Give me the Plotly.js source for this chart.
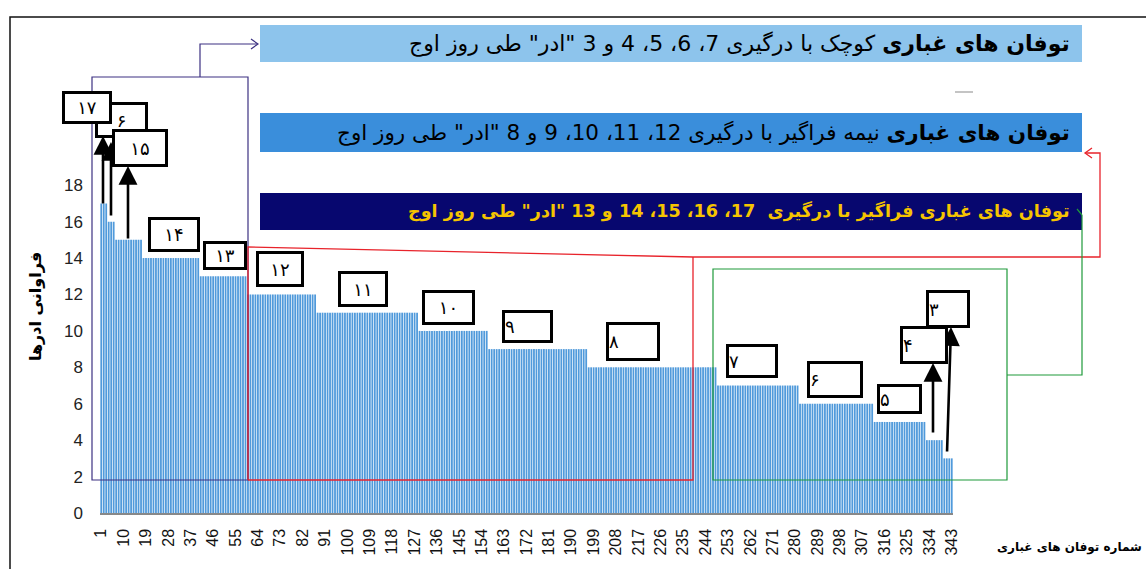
<!DOCTYPE html>
<html>
<head>
<meta charset="utf-8">
<script src="https://cdn.plot.ly/plotly-3.0.1.min.js"></script>
<style>html,body{margin:0;padding:0;background:#fff;}#chart{width:1146px;height:569px;}</style>
</head>
<body>
<div id="chart"></div>
<script>
// Storm numbers (x categories) 1..343 and the number of "ادر" affected in each
const stormValues = [
  17,17,17,16,16,16,15,15,15,15,
  15,15,15,15,15,15,15,14,14,14,
  14,14,14,14,14,14,14,14,14,14,
  14,14,14,14,14,14,14,14,14,14,
  13,13,13,13,13,13,13,13,13,13,
  13,13,13,13,13,13,13,13,13,12,
  12,12,12,12,12,12,12,12,12,12,
  12,12,12,12,12,12,12,12,12,12,
  12,12,12,12,12,12,12,11,11,11,
  11,11,11,11,11,11,11,11,11,11,
  11,11,11,11,11,11,11,11,11,11,
  11,11,11,11,11,11,11,11,11,11,
  11,11,11,11,11,11,11,11,10,10,
  10,10,10,10,10,10,10,10,10,10,
  10,10,10,10,10,10,10,10,10,10,
  10,10,10,10,10,10,9,9,9,9,
  9,9,9,9,9,9,9,9,9,9,
  9,9,9,9,9,9,9,9,9,9,
  9,9,9,9,9,9,9,9,9,9,
  9,9,9,9,9,9,8,8,8,8,
  8,8,8,8,8,8,8,8,8,8,
  8,8,8,8,8,8,8,8,8,8,
  8,8,8,8,8,8,8,8,8,8,
  8,8,8,8,8,8,8,8,8,8,
  8,8,8,8,8,8,8,8,7,7,
  7,7,7,7,7,7,7,7,7,7,
  7,7,7,7,7,7,7,7,7,7,
  7,7,7,7,7,7,7,7,7,7,
  7,6,6,6,6,6,6,6,6,6,
  6,6,6,6,6,6,6,6,6,6,
  6,6,6,6,6,6,6,6,6,6,
  6,5,5,5,5,5,5,5,5,5,
  5,5,5,5,5,5,5,5,5,5,
  5,5,4,4,4,4,4,4,4,3,
  3,3,3
];
const stormNumbers = stormValues.map((v, i) => i + 1);

const yTickValues = [0, 2, 4, 6, 8, 10, 12, 14, 16, 18];
const xTickStart = 1, xTickStep = 9;

const yAxisTitle = 'فراوانی ادرها';
const xAxisTitle = 'شماره توفان های غباری';
const bannerSmall = '<b>توفان های غباری</b> کوچک با درگیری 7، 6، 5، 4 و 3 "ادر" طی روز اوج';
const bannerSemi = '<b>توفان های غباری</b> نیمه فراگیر با درگیری 12، 11، 10، 9 و 8 "ادر" طی روز اوج';
const bannerWide = '<b>توفان های غباری فراگیر با درگیری  17، 16، 15، 14 و 13 "ادر" طی روز اوج</b>';

// labels of the steps (Persian digits)
const stepLabels = ['۱۷','۶','۱۵','۱۴','۱۳','۱۲','۱۱','۱۰','۹','۸','۷','۶','۵','۴','۳'];

// ---------- layout helpers (pixel -> paper) ----------
const ML = 100, MR = 193, MT = 167, MB = 56, W = 1146, H = 569;
const PW = W - ML - MR, PH = H - MT - MB;
const X = p => (p - ML) / PW;
const Y = p => (H - MB - p) / PH;
const path = pts => pts.map((p, i) => (i ? 'L' : 'M') + X(p[0]) + ',' + Y(p[1])).join(' ');

const shapes = [];
function pshape(pts, color, width, close) {
  shapes.push({type: 'path', xref: 'paper', yref: 'paper', path: path(pts) + (close ? ' Z' : ''),
    line: {color: color, width: width}, layer: 'above'});
}
function rect(x0, y0, x1, y1, fill) {
  shapes.push({type: 'rect', xref: 'paper', yref: 'paper', x0: X(x0), x1: X(x1), y0: Y(y1), y1: Y(y0),
    fillcolor: fill, line: {width: 0}, layer: 'above'});
}
// outer frame
shapes.push({type: 'path', xref: 'paper', yref: 'paper', path: path([[10, 600], [10, 17], [1160, 17]]),
  line: {color: '#111', width: 1.5}, layer: 'above'});
// banners
rect(260, 25, 1082, 62, '#8DC4EC');
rect(260, 113, 1082, 152, '#3A8EDB');
rect(260, 193, 1082, 230, '#07076F');
// stray gray dash
pshape([[955, 92], [973, 92]], '#c4c4c4', 2);
// purple group box + connector
pshape([[92, 480], [92, 77], [248, 77], [248, 480]], '#3C3182', 1.2, true);
pshape([[200, 77], [200, 44], [257, 44]], '#3C3182', 1.2);
pshape([[251, 39], [258, 44], [251, 49]], '#3C3182', 1.2);
// red group box + connector
pshape([[248, 480], [248, 247], [693, 257], [1100, 257], [1100, 153], [1086, 153]], '#E8232B', 1.3);
pshape([[693, 257], [693, 480], [248, 480]], '#E8232B', 1.3);
pshape([[1092, 148], [1085, 153], [1092, 158]], '#E8232B', 1.3);
// green group box + connector
pshape([[713, 480], [713, 269], [1007, 269], [1007, 480]], '#1E9A3A', 1.2, true);
pshape([[1007, 375], [1082, 375], [1082, 215]], '#1E9A3A', 1.2);
pshape([[1077, 209], [1082, 215]], '#1E9A3A', 1.2);

const annotations = [];
// arrows (tip, tail)
const arrowDefs = [
  [103, 136, 103, 205],
  [111, 142, 111, 217],
  [128, 166, 128, 240],
  [933, 363, 933, 434],
  [951, 327, 947, 453]
];
arrowDefs.forEach(a => annotations.push({
  xref: 'paper', yref: 'paper', x: X(a[0]), y: Y(a[1]), ax: a[2] - a[0], ay: a[3] - a[1],
  axref: 'pixel', ayref: 'pixel', text: '', showarrow: true, arrowhead: 2, arrowsize: 1.45,
  arrowwidth: 2.6, arrowcolor: '#000', standoff: 0, startstandoff: 0
}));
// number boxes [x0, y0, x1, y1, align]
const boxDefs = [
  [96, 104, 146, 137, 'center'],   // 16 (shows ۶)
  [113, 130, 166, 165, 'center'],  // 15
  [63, 93, 110, 123, 'center'],    // 17
  [149, 218, 198, 250, 'center'],  // 14
  [204, 242, 245, 268, 'center'],  // 13
  [257, 252, 302, 285, 'center'],  // 12
  [339, 272, 386, 305, 'center'],  // 11
  [423, 291, 473, 323, 'center'],  // 10
  [503, 311, 551, 341, 'left'],    // 9
  [607, 323, 658, 359, 'left'],    // 8
  [727, 345, 776, 376, 'left'],    // 7
  [808, 362, 861, 396, 'left'],    // 6
  [878, 385, 920, 412, 'left'],    // 5
  [901, 327, 946, 362, 'left'],    // 4
  [927, 291, 968, 326, 'left']     // 3
];
const boxTextIdx = [1, 2, 0, 3, 4, 5, 6, 7, 8, 9, 10, 11, 12, 13, 14];
boxDefs.forEach((b, i) => annotations.push({
  xref: 'paper', yref: 'paper', x: X((b[0] + b[2]) / 2), y: Y((b[1] + b[3]) / 2),
  xanchor: 'center', yanchor: 'middle', width: b[2] - b[0] - 3, height: b[3] - b[1] - 3,
  text: stepLabels[boxTextIdx[i]], showarrow: false, align: b[4], valign: 'middle',
  bgcolor: '#fff', bordercolor: '#000', borderwidth: 3, borderpad: 0,
  font: {family: 'DejaVu Sans', size: 18, color: '#000'}
}));
// banner texts
[[bannerSmall, 43.5, '#000', 22], [bannerSemi, 132.5, '#000', 21.5], [bannerWide, 211.5, '#F5C400', 17.6]].forEach(t =>
  annotations.push({xref: 'paper', yref: 'paper', x: X(1072), y: Y(t[1]), xanchor: 'right', yanchor: 'middle',
    text: t[0], showarrow: false, font: {family: 'DejaVu Sans', size: t[3], color: t[2]}}));
// axis titles
annotations.push({xref: 'paper', yref: 'paper', x: X(35), y: Y(307), xanchor: 'center', yanchor: 'middle',
  text: '<b>' + yAxisTitle + '</b>', textangle: -90, showarrow: false,
  font: {family: 'DejaVu Sans', size: 16, color: '#000'}});
annotations.push({xref: 'paper', yref: 'paper', x: X(1144), y: Y(547), xanchor: 'right', yanchor: 'middle',
  text: '<b>' + xAxisTitle + '</b>', showarrow: false,
  font: {family: 'DejaVu Sans', size: 12, color: '#000'}});

const trace = {
  type: 'bar', x: stormNumbers, y: stormValues,
  marker: {color: '#509ADB', line: {width: 0}},
  hoverinfo: 'x+y'
};

const layout = {
  width: W, height: H,
  margin: {l: ML, r: MR, t: MT, b: MB, pad: 0},
  paper_bgcolor: '#fff', plot_bgcolor: '#fff',
  showlegend: false, bargap: 0.28,
  xaxis: {
    range: [0.5, 343.5], tickmode: 'linear', tick0: xTickStart, dtick: xTickStep,
    tickangle: -90, showgrid: false, zeroline: false, showline: true, linecolor: '#888', linewidth: 1.5,
    ticks: '', ticklabelstandoff: 8,
    tickfont: {family: 'Liberation Sans', size: 16, color: '#111'}
  },
  yaxis: {
    range: [0, 19], tickmode: 'array', tickvals: yTickValues, ticktext: yTickValues.map(String),
    showgrid: false, zeroline: false, showline: false, ticks: '', ticklabelstandoff: 16,
    tickfont: {family: 'Liberation Sans', size: 17, color: '#222'}
  },
  shapes: shapes,
  annotations: annotations
};

Plotly.newPlot('chart', [trace], layout, {displayModeBar: false, staticPlot: true});
</script>
</body>
</html>
